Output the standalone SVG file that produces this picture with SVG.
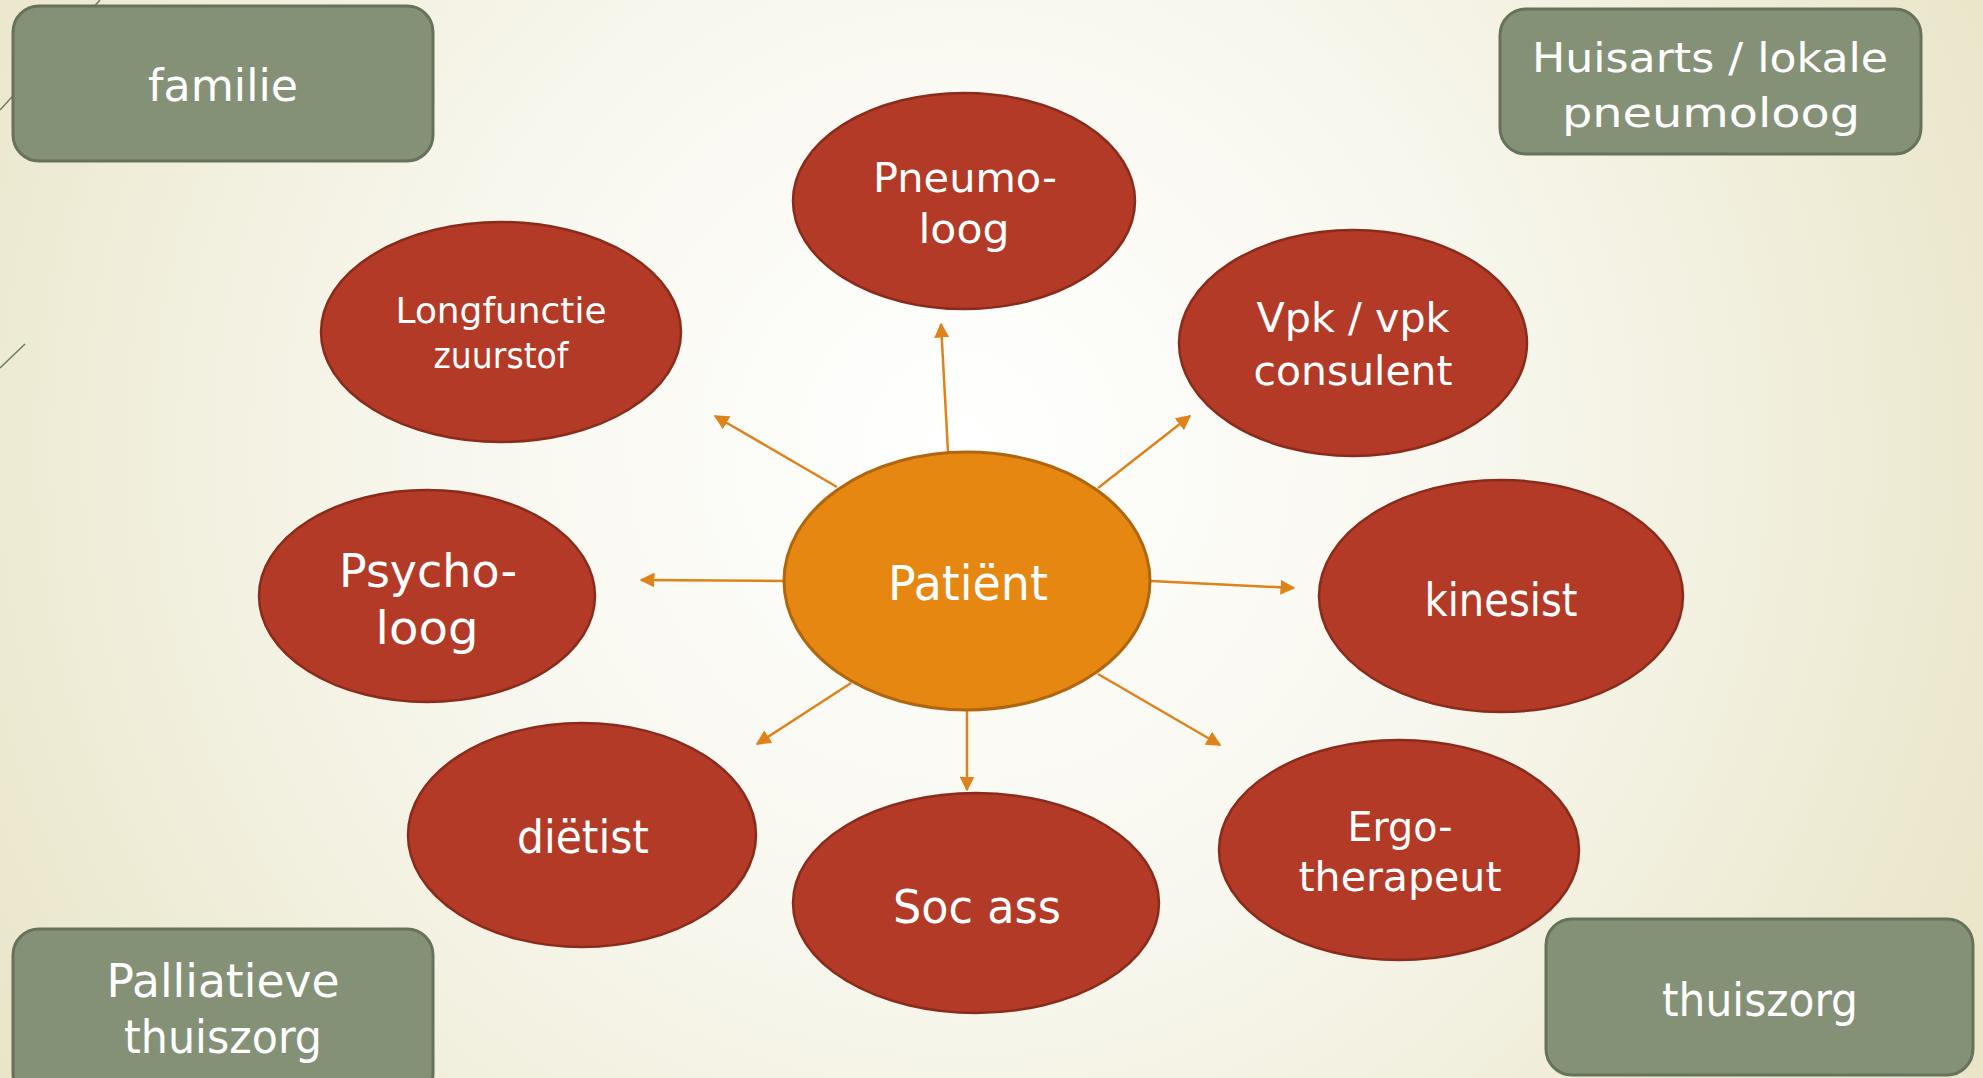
<svg xmlns="http://www.w3.org/2000/svg" width="1983" height="1078" viewBox="0 0 1983 1078">
<defs>
<radialGradient id="bg" cx="960" cy="450" r="1150" gradientUnits="userSpaceOnUse">
<stop offset="0" stop-color="#ffffff"/>
<stop offset="0.45" stop-color="#f8f7ee"/>
<stop offset="1" stop-color="#e9e5c8"/>
</radialGradient>
<marker id="ah" viewBox="0 0 10 10" refX="9" refY="5" markerWidth="6" markerHeight="6" orient="auto" markerUnits="strokeWidth">
<path d="M0,0 L10,5 L0,10 z" fill="#e0821a"/>
</marker>
<style>
.box{fill:#859176;stroke:#66725a;stroke-width:3}
.ell{fill:#b33a26;stroke:#8a2b1b;stroke-width:2.5}
.pat{fill:#e68712;stroke:#b0650f;stroke-width:3}
.t{font-family:"DejaVu Sans","Liberation Sans",sans-serif;fill:#ffffff;text-anchor:middle}
.con line{stroke:#e0821a;stroke-width:2.5;marker-end:url(#ah)}
.deco{stroke:#6b7a5c;stroke-width:1.5;fill:none}
</style>
</defs>
<rect width="1983" height="1078" fill="url(#bg)"/>
<line class="deco" x1="0" y1="110" x2="100" y2="0"/>
<line class="deco" x1="0" y1="368" x2="25" y2="344"/>

<g id="connectors" class="con">
<line x1="948" y1="452" x2="941" y2="324"/>
<line x1="837" y1="487" x2="715" y2="416"/>
<line x1="1098" y1="488" x2="1190" y2="416"/>
<line x1="784" y1="581" x2="641" y2="580"/>
<line x1="1151" y1="581" x2="1294" y2="588"/>
<line x1="851" y1="683" x2="757" y2="744"/>
<line x1="967" y1="711" x2="967" y2="790"/>
<line x1="1098" y1="674" x2="1220" y2="745"/>
</g>

<g id="familie">
<rect class="box" x="13" y="6" width="420" height="155" rx="26"/>
<text class="t" x="223" y="101" font-size="44" textLength="150" lengthAdjust="spacingAndGlyphs">familie</text>
</g>
<g id="huisarts">
<rect class="box" x="1500" y="9" width="421" height="145" rx="26"/>
<text class="t" x="1710" y="72" font-size="40" textLength="356" lengthAdjust="spacingAndGlyphs">Huisarts / lokale</text>
<text class="t" x="1711" y="127" font-size="40" textLength="298" lengthAdjust="spacingAndGlyphs">pneumoloog</text>
</g>
<g id="palliatieve">
<rect class="box" x="13" y="929" width="420" height="170" rx="26"/>
<text class="t" x="223" y="997" font-size="46" textLength="233" lengthAdjust="spacingAndGlyphs">Palliatieve</text>
<text class="t" x="223" y="1053" font-size="46" textLength="198" lengthAdjust="spacingAndGlyphs">thuiszorg</text>
</g>
<g id="thuiszorg">
<rect class="box" x="1546" y="919" width="427" height="156" rx="26"/>
<text class="t" x="1760" y="1016" font-size="46" textLength="196" lengthAdjust="spacingAndGlyphs">thuiszorg</text>
</g>

<g id="pneumoloog">
<ellipse class="ell" cx="964" cy="201" rx="171" ry="108"/>
<text class="t" x="965" y="192" font-size="41" textLength="184" lengthAdjust="spacingAndGlyphs">Pneumo-</text>
<text class="t" x="964" y="243" font-size="41" textLength="91" lengthAdjust="spacingAndGlyphs">loog</text>
</g>
<g id="longfunctie">
<ellipse class="ell" cx="501" cy="332" rx="180" ry="110"/>
<text class="t" x="501" y="323" font-size="36" textLength="211" lengthAdjust="spacingAndGlyphs">Longfunctie</text>
<text class="t" x="501" y="368" font-size="36" textLength="135" lengthAdjust="spacingAndGlyphs">zuurstof</text>
</g>
<g id="vpk">
<ellipse class="ell" cx="1353" cy="343" rx="174" ry="113"/>
<text class="t" x="1353" y="332" font-size="40" textLength="193" lengthAdjust="spacingAndGlyphs">Vpk / vpk</text>
<text class="t" x="1353" y="385" font-size="40" textLength="199" lengthAdjust="spacingAndGlyphs">consulent</text>
</g>
<g id="psycholoog">
<ellipse class="ell" cx="427" cy="596" rx="168" ry="106"/>
<text class="t" x="428" y="587" font-size="46" textLength="178" lengthAdjust="spacingAndGlyphs">Psycho-</text>
<text class="t" x="427" y="644" font-size="46" textLength="103" lengthAdjust="spacingAndGlyphs">loog</text>
</g>
<g id="kinesist">
<ellipse class="ell" cx="1501" cy="596" rx="182" ry="116"/>
<text class="t" x="1501" y="616" font-size="46" textLength="153" lengthAdjust="spacingAndGlyphs">kinesist</text>
</g>
<g id="dietist">
<ellipse class="ell" cx="582" cy="835" rx="174" ry="112"/>
<text class="t" x="583" y="853" font-size="46" textLength="132" lengthAdjust="spacingAndGlyphs">diëtist</text>
</g>
<g id="socass">
<ellipse class="ell" cx="976" cy="903" rx="183" ry="110"/>
<text class="t" x="977" y="923" font-size="46" textLength="168" lengthAdjust="spacingAndGlyphs">Soc ass</text>
</g>
<g id="ergotherapeut">
<ellipse class="ell" cx="1399" cy="850" rx="180" ry="110"/>
<text class="t" x="1400" y="841" font-size="40" textLength="105" lengthAdjust="spacingAndGlyphs">Ergo-</text>
<text class="t" x="1400" y="891" font-size="40" textLength="203" lengthAdjust="spacingAndGlyphs">therapeut</text>
</g>
<g id="patient">
<ellipse class="pat" cx="967" cy="581" rx="183" ry="129"/>
<text class="t" x="968" y="600" font-size="48" textLength="160" lengthAdjust="spacingAndGlyphs">Patiënt</text>
</g>
</svg>
